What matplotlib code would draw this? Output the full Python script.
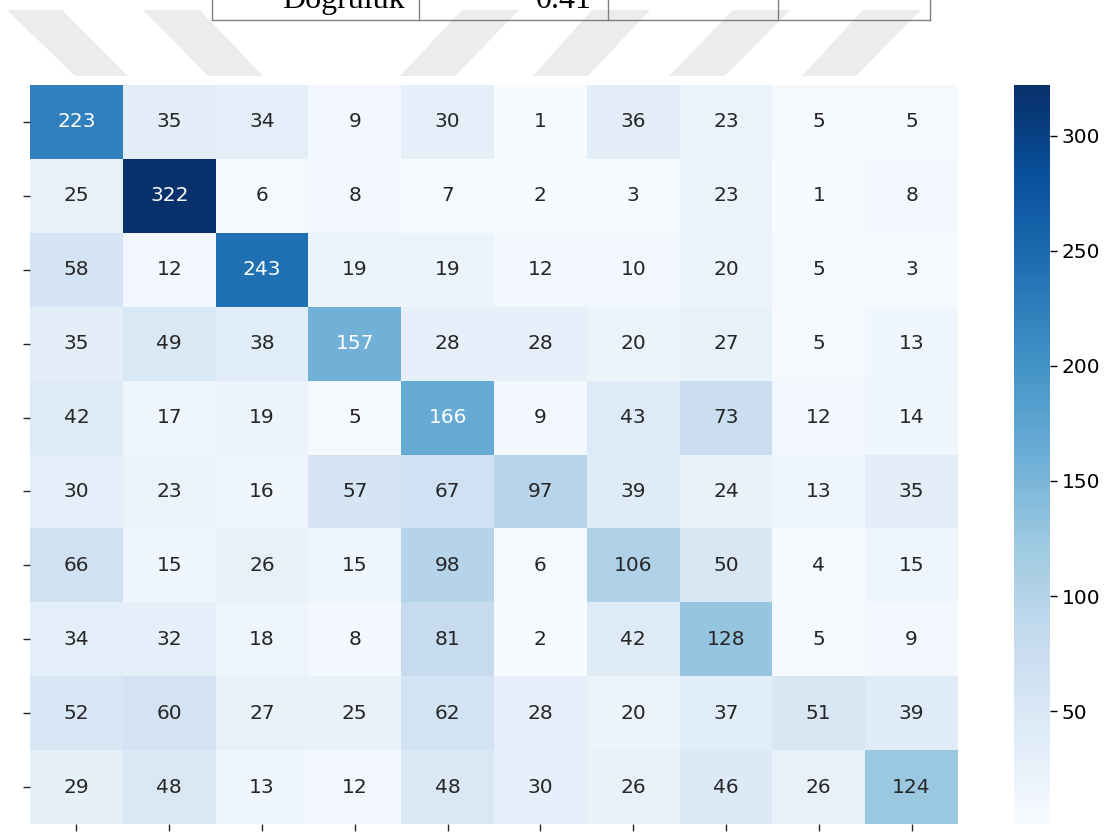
import numpy as np
import matplotlib
matplotlib.use("Agg")
import matplotlib.pyplot as plt
from matplotlib.patches import Polygon
import seaborn as sns

# Confusion matrix values (rows = true, cols = predicted)
row0 = [223, 35, 34, 9, 30, 1, 36, 23, 5, 5]
row1 = [25, 322, 6, 8, 7, 2, 3, 23, 1, 8]
row2 = [58, 12, 243, 19, 19, 12, 10, 20, 5, 3]
row3 = [35, 49, 38, 157, 28, 28, 20, 27, 5, 13]
row4 = [42, 17, 19, 5, 166, 9, 43, 73, 12, 14]
row5 = [30, 23, 16, 57, 67, 97, 39, 24, 13, 35]
row6 = [66, 15, 26, 15, 98, 6, 106, 50, 4, 15]
row7 = [34, 32, 18, 8, 81, 2, 42, 128, 5, 9]
row8 = [52, 60, 27, 25, 62, 28, 20, 37, 51, 39]
row9 = [29, 48, 13, 12, 48, 30, 26, 46, 26, 124]
cbar_ticks = [50, 100, 150, 200, 250, 300]
table_label = "Doğruluk"
table_value = "0.41"

matrix = np.array([row0, row1, row2, row3, row4, row5, row6, row7, row8, row9])

W, H = 1110, 833
fig = plt.figure(figsize=(W / 100, H / 100), dpi=100)

# Background overlay in pixel coordinates (watermark + table fragment)
bg = fig.add_axes([0, 0, 1, 1], zorder=0)
bg.set_xlim(0, W)
bg.set_ylim(H, 0)
bg.axis("off")

wm_color = "#ececec"
y_top, y_bot = 10, 76
bands = [
    ((7, 62), (75, 128)),
    ((143, 200), (208, 263)),
    ((462, 519), (400, 455)),
    ((592, 650), (533, 588)),
    ((733, 790), (669, 725)),
    ((863, 921), (802, 856)),
]
for (t0, t1), (b0, b1) in bands:
    bg.add_patch(Polygon([(t0, y_top), (t1, y_top), (b1, y_bot), (b0, y_bot)],
                         closed=True, facecolor=wm_color, edgecolor="none"))

line_col = "#808080"
for x in [212, 419, 608, 778, 930]:
    bg.plot([x, x], [-1, 20], color=line_col, lw=1.0)
bg.plot([212, 930], [20, 20], color=line_col, lw=1.0)
bg.text(405, 8, table_label, ha="right", va="baseline",
        fontsize=23, family="Liberation Serif", color="black")
bg.text(592, 8, table_value, ha="right", va="baseline",
        fontsize=23, family="Liberation Serif", color="black")

# Heatmap
left, right = 30, 958
top, bottom = 85, 824
ax = fig.add_axes([left / W, (H - bottom) / H, (right - left) / W, (bottom - top) / H], zorder=1)
cax = fig.add_axes([1014 / W, (H - bottom) / H, 36 / W, (bottom - top) / H], zorder=1)

sns.heatmap(matrix, ax=ax, cbar_ax=cax, cmap="Blues", annot=True, fmt="d",
            annot_kws={"fontsize": 14.5}, cbar=True)
ax.set_xticklabels([""] * 10)
ax.set_yticklabels([""] * 10)
ax.tick_params(axis="both", length=5, width=1, color="#262626")

cax.set_yticks(cbar_ticks)
cax.set_yticklabels([str(t) for t in cbar_ticks])
cax.tick_params(labelsize=14.5, length=5, width=1)

fig.savefig("out.png", dpi=100)
